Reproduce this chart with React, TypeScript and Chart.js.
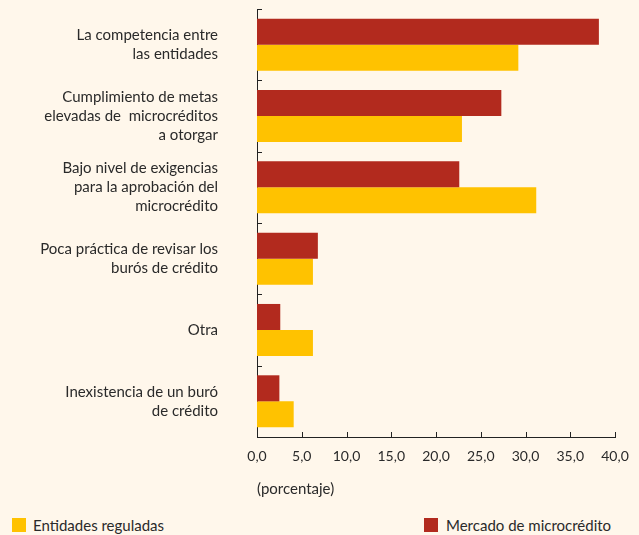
import React, { useEffect, useRef } from 'react';
import { Chart, registerables } from 'chart.js';

Chart.register(...registerables);

const categories: (string | string[])[] = [
  ['La competencia entre', 'las entidades'],
  ['Cumplimiento de metas', 'elevadas de  microcréditos', 'a otorgar'],
  ['Bajo nivel de exigencias', 'para la aprobación del', 'microcrédito'],
  ['Poca práctica de revisar los', 'burós de crédito'],
  'Otra',
  ['Inexistencia de un buró', 'de crédito'],
];
const mercadoValues = [38.2, 27.3, 22.6, 6.8, 2.6, 2.5];
const entidadesValues = [29.2, 22.9, 31.2, 6.25, 6.25, 4.1];
const xMin = 0;
const xMax = 40;
const xStep = 5;
const axisTitle = '(porcentaje)';
const legendLabels = ['Entidades reguladas', 'Mercado de microcrédito'];

const RED = '#B22A1E';
const YELLOW = '#FFC200';
const BG = '#FFF7EB';
const TEXT = '#2a2a2a';
const FONT = 'Lato, "Open Sans", sans-serif';

const inwardTicks = {
  id: 'inwardTicks',
  afterDraw(chart: any) {
    const { ctx, chartArea } = chart;
    const x = chart.scales.x;
    const y = chart.scales.y;
    ctx.save();
    ctx.strokeStyle = '#222';
    ctx.lineWidth = 1;
    ctx.beginPath();
    x.ticks.forEach((t: any) => {
      const px = Math.round(x.getPixelForValue(t.value)) + 0.5;
      ctx.moveTo(px, chartArea.bottom);
      ctx.lineTo(px, chartArea.bottom - 5);
    });
    for (let i = 0; i <= categories.length; i++) {
      const py = Math.round(y.getPixelForValue(i - 0.5)) + 0.5;
      ctx.moveTo(chartArea.left, py);
      ctx.lineTo(chartArea.left + 5, py);
    }
    ctx.stroke();
    ctx.restore();
  },
};

export default function App() {
  const ref = useRef<HTMLCanvasElement>(null);

  useEffect(() => {
    if (!ref.current) return;
    const chart = new Chart(ref.current, {
      type: 'bar',
      data: {
        labels: categories,
        datasets: [
          {
            label: legendLabels[1],
            data: mercadoValues,
            backgroundColor: RED,
            borderWidth: 0,
          },
          {
            label: legendLabels[0],
            data: entidadesValues,
            backgroundColor: YELLOW,
            borderWidth: 0,
          },
        ],
      },
      options: {
        indexAxis: 'y',
        responsive: false,
        animation: false,
        layout: { padding: { top: 9, right: 24, left: 0, bottom: 0 } },
        datasets: { bar: { categoryPercentage: 0.73, barPercentage: 1 } },
        plugins: {
          legend: { display: false },
          tooltip: { enabled: false },
        },
        scales: {
          x: {
            min: xMin,
            max: xMax,
            grid: { display: false },
            border: { display: true, color: '#222', width: 1 },
            afterFit: (s: any) => {
              s.height = 68;
              s.paddingLeft = 0;
            },
            ticks: {
              stepSize: xStep,
              padding: 3,
              color: TEXT,
              font: { family: FONT, size: 14 },
              callback: (v: any) => Number(v).toFixed(1).replace('.', ','),
            },
            title: {
              display: true,
              text: axisTitle,
              align: 'start',
              color: TEXT,
              font: { family: FONT, size: 15 },
              padding: { top: 0, bottom: 7 },
            },
          },
          y: {
            grid: { display: false, drawTicks: false },
            border: { display: true, color: '#222', width: 1 },
            afterFit: (s: any) => {
              s.width = 257;
              s.paddingTop = 0;
              s.paddingBottom = 0;
            },
            ticks: {
              padding: 39,
              color: TEXT,
              font: { family: FONT, size: 15, lineHeight: 1.25 },
            },
          },
        },
      },
      plugins: [inwardTicks],
    });
    return () => chart.destroy();
  }, []);

  return (
    <div
      style={{
        position: 'absolute',
        left: 0,
        top: 0,
        width: 639,
        height: 535,
        background: BG,
        fontFamily: FONT,
        color: TEXT,
        overflow: 'hidden',
      }}
    >
      <canvas ref={ref} width={639} height={505} style={{ display: 'block' }} />
      <div style={{ position: 'absolute', left: 12, top: 516, display: 'flex', alignItems: 'center', fontSize: 15 }}>
        <span style={{ width: 14, height: 14, background: YELLOW, display: 'inline-block', marginRight: 7 }} />
        <span>{legendLabels[0]}</span>
      </div>
      <div style={{ position: 'absolute', left: 424, top: 516, display: 'flex', alignItems: 'center', fontSize: 15 }}>
        <span style={{ width: 14, height: 14, background: RED, display: 'inline-block', marginRight: 8 }} />
        <span>{legendLabels[1]}</span>
      </div>
    </div>
  );
}
